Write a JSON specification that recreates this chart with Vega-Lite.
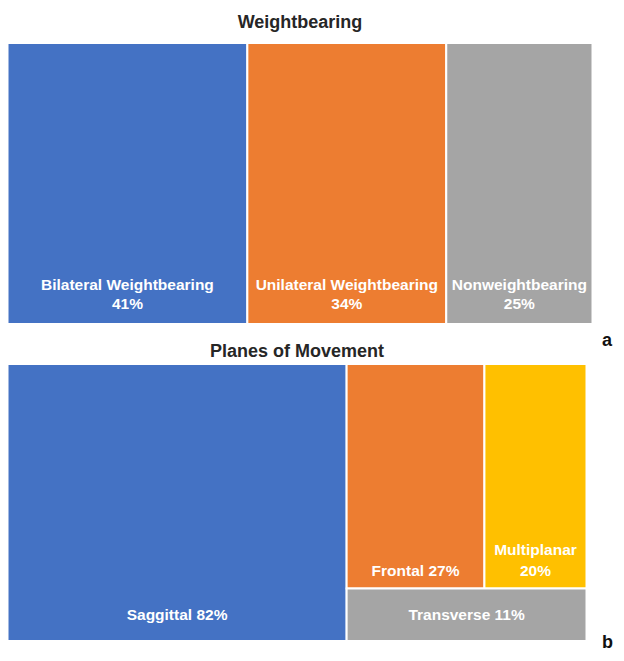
{
  "$schema": "https://vega.github.io/schema/vega-lite/v6.json",
  "padding": {"left": 6.5, "top": 13, "right": 5, "bottom": 5},
  "bounds": "flush",
  "spacing": 40,
  "resolve": {"scale": {"color": "independent"}},
  "config": {
    "view": {"stroke": null},
    "font": "Liberation Sans",
    "title": {"font": "Liberation Sans", "fontSize": 18, "fontWeight": "bold", "color": "#262626", "baseline": "alphabetic", "anchor": "middle"}
  },
  "vconcat": [
    {
      "width": 585,
      "height": 281,
      "title": {"text": "Weightbearing", "offset": 10.5},
      "data": {"values": [
        {"category": "Bilateral Weightbearing", "pct": 41},
        {"category": "Unilateral Weightbearing", "pct": 34},
        {"category": "Nonweightbearing", "pct": 25}
      ]},
      "transform": [
        {"stack": "pct", "groupby": [], "sort": [{"field": "pct", "order": "descending"}], "as": ["x0", "x1"]},
        {"calculate": "(datum.x0 + datum.x1) / 2", "as": "xm"},
        {"calculate": "datum.category + '\\n' + datum.pct + '%'", "as": "label"}
      ],
      "layer": [
        {
          "mark": {"type": "rect", "stroke": "white", "strokeWidth": 2},
          "encoding": {
            "x": {"field": "x0", "type": "quantitative", "scale": {"domain": [0, 100], "nice": false, "zero": false}, "axis": null},
            "x2": {"field": "x1"},
            "y": {"datum": 0, "type": "quantitative", "scale": {"domain": [0, 1], "nice": false}, "axis": null},
            "y2": {"datum": 1},
            "color": {"field": "category", "type": "nominal", "legend": null,
              "scale": {"domain": ["Bilateral Weightbearing", "Unilateral Weightbearing", "Nonweightbearing"], "range": ["#4472C4", "#ED7D31", "#A5A5A5"]}}
          }
        },
        {
          "mark": {"type": "text", "color": "white", "fontWeight": "bold", "fontSize": 15.5, "lineBreak": "\n", "lineHeight": 19, "baseline": "alphabetic", "align": "center", "dy": -34.4},
          "encoding": {
            "x": {"field": "xm", "type": "quantitative"},
            "y": {"datum": 0, "type": "quantitative"},
            "text": {"field": "label"}
          }
        },
        {
          "data": {"values": [{"tag": "a"}]},
          "mark": {"type": "text", "color": "#111111", "fontWeight": "bold", "fontSize": 18, "baseline": "alphabetic", "align": "center", "dx": 14.5, "dy": 21.6},
          "encoding": {
            "x": {"datum": 100, "type": "quantitative"},
            "y": {"datum": 0, "type": "quantitative"},
            "text": {"field": "tag"}
          }
        }
      ]
    },
    {
      "width": 579,
      "height": 277,
      "title": {"text": "Planes of Movement", "offset": 2},
      "data": {"values": [
        {"plane": "Saggittal", "pct": 82, "col": "left", "row": "upper"},
        {"plane": "Frontal", "pct": 27, "col": "right", "row": "upper"},
        {"plane": "Multiplanar", "pct": 20, "col": "right", "row": "upper"},
        {"plane": "Transverse", "pct": 11, "col": "right", "row": "lower"}
      ]},
      "transform": [
        {"joinaggregate": [{"op": "sum", "field": "pct", "as": "total"}]},
        {"joinaggregate": [{"op": "sum", "field": "pct", "as": "colTotal"}], "groupby": ["col"]},
        {"joinaggregate": [{"op": "sum", "field": "pct", "as": "rowTotal"}], "groupby": ["col", "row"]},
        {"stack": "pct", "groupby": ["col", "row"], "sort": [{"field": "pct", "order": "descending"}], "as": ["s0", "s1"]},
        {"calculate": "datum.col === 'left' ? 0 : datum.total - datum.colTotal", "as": "colStart"},
        {"calculate": "datum.colStart + datum.colTotal * datum.s0 / datum.rowTotal", "as": "x0"},
        {"calculate": "datum.colStart + datum.colTotal * datum.s1 / datum.rowTotal", "as": "x1"},
        {"calculate": "datum.row === 'upper' ? 1 - datum.rowTotal / datum.colTotal : 0", "as": "y0"},
        {"calculate": "datum.row === 'upper' ? 1 : datum.rowTotal / datum.colTotal", "as": "y1"},
        {"calculate": "(datum.x0 + datum.x1) / 2", "as": "xm"},
        {"calculate": "datum.plane + (datum.plane === 'Multiplanar' ? '\\n' : ' ') + datum.pct + '%'", "as": "label"}
      ],
      "layer": [
        {
          "mark": {"type": "rect", "stroke": "white", "strokeWidth": 2},
          "encoding": {
            "x": {"field": "x0", "type": "quantitative", "scale": {"domain": [0, 140], "nice": false, "zero": false}, "axis": null},
            "x2": {"field": "x1"},
            "y": {"field": "y0", "type": "quantitative", "scale": {"domain": [0, 1], "nice": false}, "axis": null},
            "y2": {"field": "y1"},
            "color": {"field": "plane", "type": "nominal", "legend": null,
              "scale": {"domain": ["Saggittal", "Frontal", "Multiplanar", "Transverse"], "range": ["#4472C4", "#ED7D31", "#FFC000", "#A5A5A5"]}}
          }
        },
        {
          "transform": [{"filter": "datum.y0 === 0"}],
          "mark": {"type": "text", "color": "white", "fontWeight": "bold", "fontSize": 15.5, "lineBreak": "\n", "lineHeight": 21, "baseline": "alphabetic", "align": "center", "dy": -20.7},
          "encoding": {
            "x": {"field": "xm", "type": "quantitative"},
            "y": {"field": "y0", "type": "quantitative"},
            "text": {"field": "label"}
          }
        },
        {
          "transform": [{"filter": "datum.y0 > 0 && indexof(datum.label, '\\n') < 0"}],
          "mark": {"type": "text", "color": "white", "fontWeight": "bold", "fontSize": 15.5, "lineBreak": "\n", "lineHeight": 21, "baseline": "alphabetic", "align": "center", "dy": -12.9},
          "encoding": {
            "x": {"field": "xm", "type": "quantitative"},
            "y": {"field": "y0", "type": "quantitative"},
            "text": {"field": "label"}
          }
        },
        {
          "transform": [{"filter": "datum.y0 > 0 && indexof(datum.label, '\\n') >= 0"}],
          "mark": {"type": "text", "color": "white", "fontWeight": "bold", "fontSize": 15.5, "lineBreak": "\n", "lineHeight": 21, "baseline": "alphabetic", "align": "center", "dy": -33.9},
          "encoding": {
            "x": {"field": "xm", "type": "quantitative"},
            "y": {"field": "y0", "type": "quantitative"},
            "text": {"field": "label"}
          }
        },
        {
          "data": {"values": [{"tag": "b"}]},
          "mark": {"type": "text", "color": "#111111", "fontWeight": "bold", "fontSize": 18, "baseline": "alphabetic", "align": "center", "dx": 21, "dy": 6.7},
          "encoding": {
            "x": {"datum": 140, "type": "quantitative"},
            "y": {"datum": 0, "type": "quantitative"},
            "text": {"field": "tag"}
          }
        }
      ]
    }
  ]
}
